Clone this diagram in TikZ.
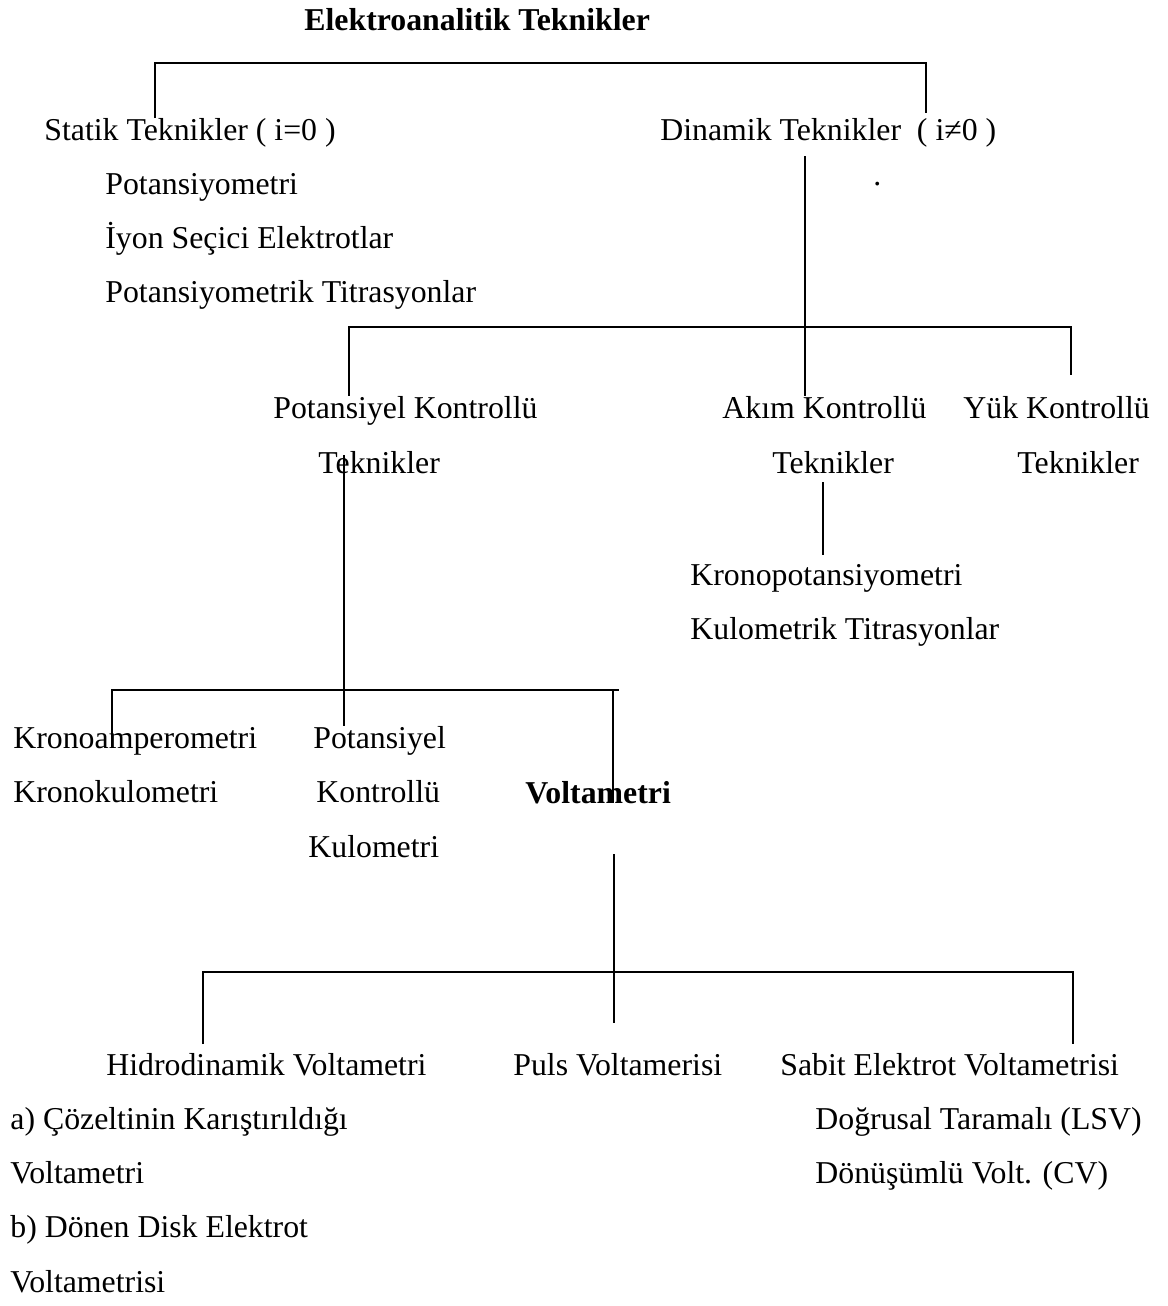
\documentclass[tikz,border=0pt]{standalone}
\usepackage{fontspec}
\setmainfont{Liberation Serif}
\begin{document}
\begin{tikzpicture}[x=0.5pt,y=-0.5pt,font=\fontsize{15.9}{19}\selectfont,
		txt/.style={anchor=base west,inner sep=0pt},
		boldtxt/.style={txt,font=\fontsize{15.9}{19}\selectfont\bfseries},
		link/.style={line width=1pt}]
	\def\gap{54.3}
	\useasboundingbox (0,0) rectangle (1167,1306);
	
	\node[boldtxt] (title) at (304,31) {Elektroanalitik Teknikler};
	
	\node[txt] (statik) at (44,140) {Statik Teknikler ( i=0 )};
	\node[txt] (dinamik) at (660,140) {Dinamik Teknikler \ ( i≠0 )};
	\node[txt] (dot) at (873,185) {.};
	
	\foreach \t [count=\i] in {Potansiyometri,İyon Seçici Elektrotlar,Potansiyometrik Titrasyonlar}
		\node[txt] (statik\i) at (105,{140+\i*\gap}) {\t};
	
	\foreach \n/\x/\xt/\t in {potk/273/318/Potansiyel,akim/722/772/Akım,yuk/963/1017/Yük} {
		\node[txt] (\n) at (\x,418) {\t{} Kontrollü};
		\node[txt] (\n T) at (\xt,473) {Teknikler};
	}
	
	\node[txt] (kronop) at (690,585) {Kronopotansiyometri};
	\node[txt] (kultit) at (690,639) {Kulometrik Titrasyonlar};
	
	\node[txt] (kamp) at (13,748) {Kronoamperometri};
	\node[txt] (kkul) at (13,802) {Kronokulometri};
	\node[txt] (pkk1) at (313,748) {Potansiyel};
	\node[txt] (pkk2) at (316,802) {Kontrollü};
	\node[txt] (pkk3) at (308,857) {Kulometri};
	\node[boldtxt] (volt) at (525,803) {Voltametri};
	
	\node[txt] (hidro) at (106,1075) {Hidrodinamik Voltametri};
	\node[txt] (puls) at (513,1075) {Puls Voltamerisi};
	\node[txt] (sabit) at (780,1075) {Sabit Elektrot Voltametrisi};
	
	\foreach \t [count=\i] in {a) Çözeltinin Karıştırıldığı,Voltametri,b) Dönen Disk Elektrot,Voltametrisi}
		\node[txt] (hidro\i) at (10,{1075+\i*\gap}) {\t};
	\foreach \t [count=\i] in {Doğrusal Taramalı (LSV),Dönüşümlü Volt. (CV)}
		\node[txt] (sabit\i) at (815,{1075+\i*\gap}) {\t};
	
	\coordinate (j1a) at (155,63);
	\coordinate (j1b) at (926,63);
	\coordinate (j1c) at (926,113);
	\draw[link] (j1a |- statik.north) -- (j1a) -- (j1b) -- (j1c);
	
	\coordinate (s1) at (805,156);
	\draw[link] (s1) -- (s1 |- akim.north);
	
	\coordinate (j2a) at (349,327);
	\coordinate (j2b) at (1071,327);
	\coordinate (j2c) at (1071,375);
	\draw[link] (j2a |- potk.north) -- (j2a) -- (j2b) -- (j2c);
	
	\coordinate (s2) at (823,482);
	\coordinate (s2e) at (823,555);
	\draw[link] (s2) -- (s2e);
	
	\coordinate (s3) at (344,455);
	\draw[link] (s3) -- (s3 |- pkk1.north);
	
	\coordinate (j3a) at (112,690);
	\coordinate (j3b) at (613,690);
	\coordinate (j3c) at (619,690);
	\draw[link] (j3a |- kamp.base) -- (j3a) -- (j3c);
	\draw[link] (j3b) -- (j3b |- volt.base);
	
	\coordinate (s4) at (614,854);
	\coordinate (s4e) at (614,1023);
	\draw[link] (s4) -- (s4e);
	
	\coordinate (j4a) at (203,972);
	\coordinate (j4b) at (1073,972);
	\coordinate (j4c) at (1073,1044);
	\draw[link] (j4a |- j4c) -- (j4a) -- (j4b) -- (j4c);
\end{tikzpicture}
\end{document}
